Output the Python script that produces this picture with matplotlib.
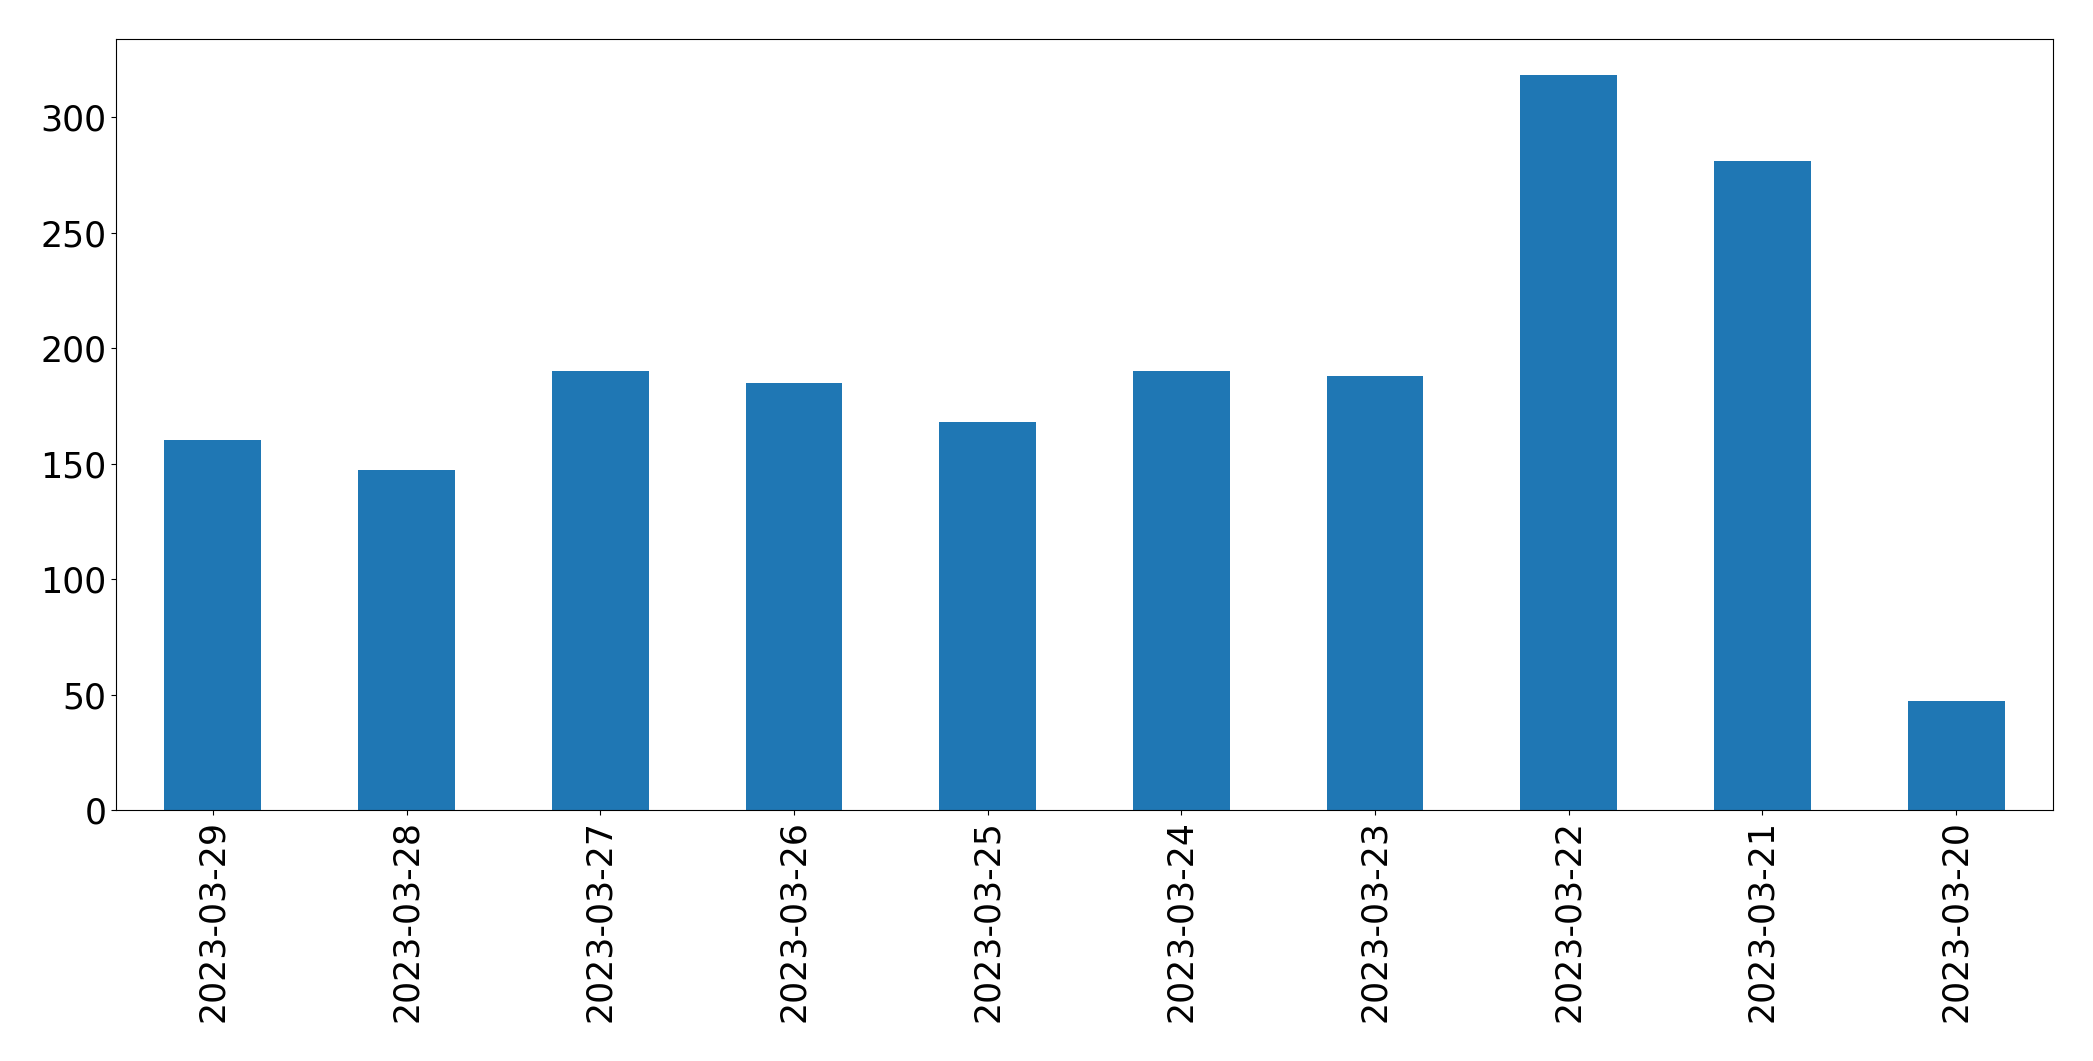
import matplotlib
matplotlib.use("Agg")
import matplotlib.pyplot as plt

dates = ["2023-03-29", "2023-03-28", "2023-03-27", "2023-03-26", "2023-03-25",
         "2023-03-24", "2023-03-23", "2023-03-22", "2023-03-21", "2023-03-20"]
counts = [160, 147, 190, 185, 168, 190, 188, 318, 281, 47]

fig = plt.figure(figsize=(20.93, 10.61), dpi=100)
ax = fig.add_axes([116/2093, 1 - 810/1061, (2053-116)/2093, (810-38.7)/1061])
x = list(range(len(dates)))
ax.bar(x, counts, width=0.5, color="#1f77b4")
ax.set_xlim(-0.5, len(dates) - 0.5)
ax.set_xticks(x)
ax.set_xticklabels(dates, rotation=90)
ax.tick_params(axis="both", labelsize=25)
fig.savefig("out.png", dpi=100)
